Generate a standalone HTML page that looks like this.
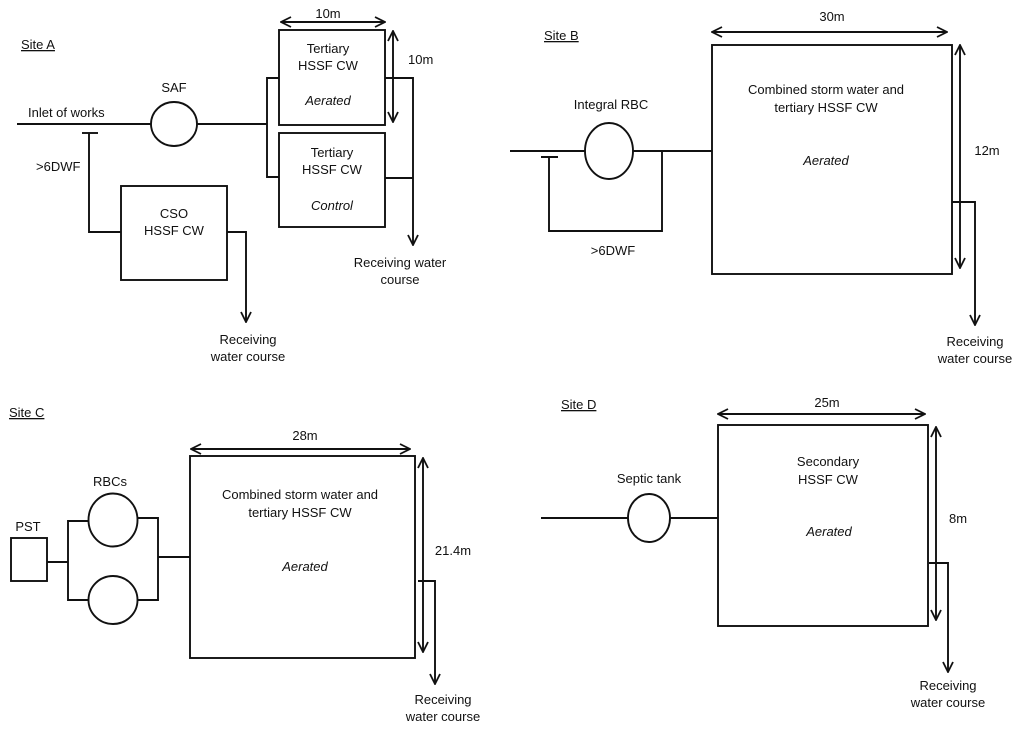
<!DOCTYPE html>
<html><head><meta charset="utf-8"><style>
html,body{margin:0;padding:0;background:#fff;}
svg{display:block;}
text{font-family:"Liberation Sans",sans-serif;font-size:13px;fill:#111;}
.c{text-anchor:middle;}
.i{font-style:italic;}
.u{text-decoration:underline;}
</style></head><body>
<svg width="1024" height="734" viewBox="0 0 1024 734" xmlns="http://www.w3.org/2000/svg">
<defs>
<marker id="a" viewBox="0 0 12 12" refX="11" refY="6" markerWidth="12" markerHeight="12" markerUnits="userSpaceOnUse" orient="auto-start-reverse">
<path d="M1,1 L11,6 L1,11" fill="none" stroke="#111" stroke-width="1.8"/>
</marker>
</defs>
<g fill="none" stroke="#111" stroke-width="1.9">
<!-- Site A -->
<line x1="17" y1="124" x2="151" y2="124"/>
<ellipse cx="174" cy="124" rx="23" ry="22"/>
<line x1="197" y1="124" x2="267" y2="124"/>
<polyline points="279,78 267,78 267,177 279,177"/>
<rect x="279" y="30" width="106" height="95"/>
<rect x="279" y="133" width="106" height="94"/>
<polyline points="385,78 413,78 413,245" marker-end="url(#a)"/>
<line x1="385" y1="178" x2="413" y2="178"/>
<line x1="281" y1="22" x2="385" y2="22" marker-start="url(#a)" marker-end="url(#a)"/>
<line x1="393" y1="31" x2="393" y2="122" marker-start="url(#a)" marker-end="url(#a)"/>
<line x1="82" y1="133" x2="98" y2="133"/>
<polyline points="89,133 89,232 121,232"/>
<rect x="121" y="186" width="106" height="94"/>
<polyline points="227,232 246,232 246,322" marker-end="url(#a)"/>
<!-- Site B -->
<line x1="510" y1="151" x2="585" y2="151"/>
<ellipse cx="609" cy="151" rx="24" ry="28"/>
<line x1="633" y1="151" x2="712" y2="151"/>
<line x1="541" y1="157" x2="558" y2="157"/>
<polyline points="549,157 549,231 662,231 662,151"/>
<rect x="712" y="45" width="240" height="229"/>
<line x1="712" y1="32" x2="947" y2="32" marker-start="url(#a)" marker-end="url(#a)"/>
<line x1="960" y1="45" x2="960" y2="268" marker-start="url(#a)" marker-end="url(#a)"/>
<polyline points="952,202 975,202 975,325" marker-end="url(#a)"/>
<!-- Site C -->
<rect x="11" y="538" width="36" height="43"/>
<line x1="47" y1="562" x2="68" y2="562"/>
<polyline points="88,521 68,521 68,600 88,600"/>
<ellipse cx="113" cy="520" rx="24.5" ry="26.5"/>
<ellipse cx="113" cy="600" rx="24.5" ry="24"/>
<polyline points="137,518 158,518 158,600 137,600"/>
<line x1="158" y1="557" x2="190" y2="557"/>
<rect x="190" y="456" width="225" height="202"/>
<line x1="191" y1="449" x2="410" y2="449" marker-start="url(#a)" marker-end="url(#a)"/>
<line x1="423" y1="458" x2="423" y2="652" marker-start="url(#a)" marker-end="url(#a)"/>
<polyline points="418,581 435,581 435,684" marker-end="url(#a)"/>
<!-- Site D -->
<line x1="541" y1="518" x2="628" y2="518"/>
<ellipse cx="649" cy="518" rx="21" ry="24"/>
<line x1="670" y1="518" x2="718" y2="518"/>
<rect x="718" y="425" width="210" height="201"/>
<line x1="718" y1="414" x2="925" y2="414" marker-start="url(#a)" marker-end="url(#a)"/>
<line x1="936" y1="427" x2="936" y2="620" marker-start="url(#a)" marker-end="url(#a)"/>
<polyline points="929,563 948,563 948,672" marker-end="url(#a)"/>
</g>
<!-- Text Site A -->
<text x="21" y="49" class="u">Site A</text>
<text x="28" y="117">Inlet of works</text>
<text x="174" y="92" class="c">SAF</text>
<text x="36" y="171">&gt;6DWF</text>
<text x="328" y="18" class="c">10m</text>
<text x="408" y="64">10m</text>
<text x="328" y="53" class="c">Tertiary</text>
<text x="328" y="70" class="c">HSSF CW</text>
<text x="328" y="105" class="c i">Aerated</text>
<text x="332" y="157" class="c">Tertiary</text>
<text x="332" y="174" class="c">HSSF CW</text>
<text x="332" y="210" class="c i">Control</text>
<text x="400" y="267" class="c">Receiving water</text>
<text x="400" y="284" class="c">course</text>
<text x="174" y="218" class="c">CSO</text>
<text x="174" y="235" class="c">HSSF CW</text>
<text x="248" y="344" class="c">Receiving</text>
<text x="248" y="361" class="c">water course</text>
<!-- Site B -->
<text x="544" y="40" class="u">Site B</text>
<text x="832" y="21" class="c">30m</text>
<text x="611" y="109" class="c">Integral RBC</text>
<text x="613" y="255" class="c">&gt;6DWF</text>
<text x="826" y="94" class="c">Combined storm water and</text>
<text x="826" y="112" class="c">tertiary HSSF CW</text>
<text x="826" y="165" class="c i">Aerated</text>
<text x="987" y="155" class="c">12m</text>
<text x="975" y="346" class="c">Receiving</text>
<text x="975" y="363" class="c">water course</text>
<!-- Site C -->
<text x="9" y="417" class="u">Site C</text>
<text x="305" y="440" class="c">28m</text>
<text x="110" y="486" class="c">RBCs</text>
<text x="28" y="531" class="c">PST</text>
<text x="300" y="499" class="c">Combined storm water and</text>
<text x="300" y="517" class="c">tertiary HSSF CW</text>
<text x="305" y="571" class="c i">Aerated</text>
<text x="453" y="555" class="c">21.4m</text>
<text x="443" y="704" class="c">Receiving</text>
<text x="443" y="721" class="c">water course</text>
<!-- Site D -->
<text x="561" y="409" class="u">Site D</text>
<text x="827" y="407" class="c">25m</text>
<text x="649" y="483" class="c">Septic tank</text>
<text x="828" y="466" class="c">Secondary</text>
<text x="828" y="484" class="c">HSSF CW</text>
<text x="829" y="536" class="c i">Aerated</text>
<text x="958" y="523" class="c">8m</text>
<text x="948" y="690" class="c">Receiving</text>
<text x="948" y="707" class="c">water course</text>
</svg>
</body></html>
